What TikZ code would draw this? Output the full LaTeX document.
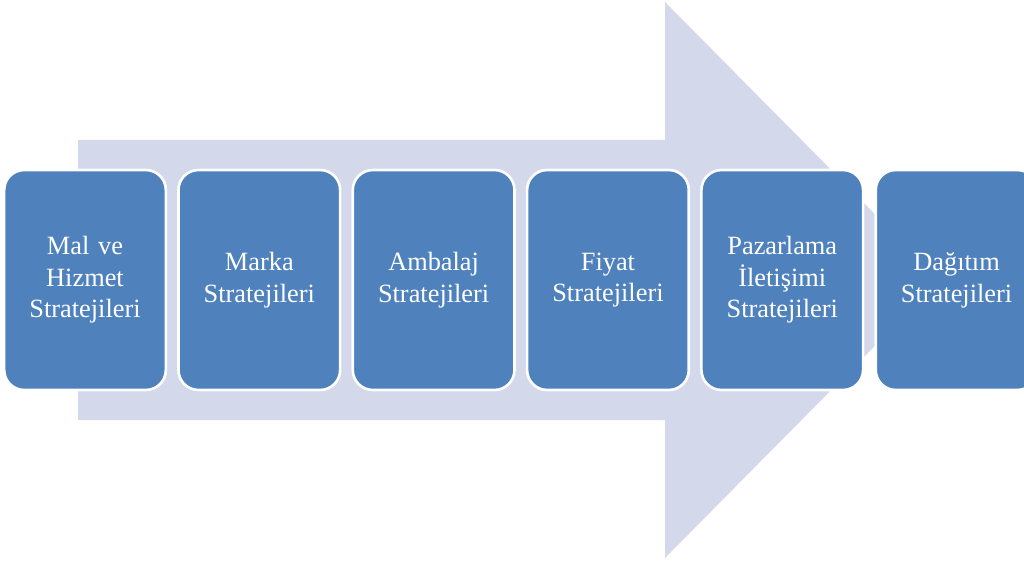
\documentclass[tikz,border=0pt]{standalone}
\usepackage{fontspec}
\setmainfont{Liberation Serif}
\usetikzlibrary{positioning}
\definecolor{boxblue}{HTML}{4F81BD}
\definecolor{arrowgray}{HTML}{D3D8EA}
\begin{document}
\begin{tikzpicture}[
    x=0.02cm, y=0.02cm,
    node distance=0.2cm,
    stagebox/.style={draw=white, line width=1.5pt, fill=boxblue, rounded corners=0.4cm,
        minimum width=3.2cm, minimum height=4.4cm, text width=3cm, align=center,
        text=white, font=\fontsize{15}{18}\selectfont}
]
\useasboundingbox (0,0) rectangle (1024,562);
% big arrow behind the boxes
\fill[arrowgray] (78,422) -- (665,422) -- (665,560) -- (940,282) -- (665,4)
    -- (665,142) -- (78,142) -- cycle;
\node[stagebox] (mal) at (85,282) {Mal ve\\Hizmet\\Stratejileri};
\node[stagebox, right=of mal] (marka) {Marka\\Stratejileri};
\node[stagebox, right=of marka] (ambalaj) {Ambalaj\\Stratejileri};
\node[stagebox, right=of ambalaj] (fiyat) {Fiyat\\Stratejileri};
\node[stagebox, right=of fiyat] (pazar) {Pazarlama\\İletişimi\\Stratejileri};
\node[stagebox, right=of pazar] (dagitim) {Dağıtım\\Stratejileri};
\end{tikzpicture}
\end{document}
